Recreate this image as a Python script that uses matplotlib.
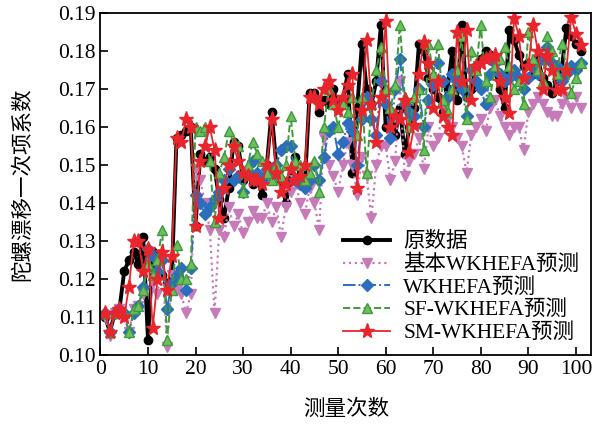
import numpy as np
import matplotlib
matplotlib.use("Agg")
import matplotlib.pyplot as plt

plt.rcParams['font.family'] = ['Liberation Serif', 'Noto Sans CJK SC']
plt.rcParams['font.size'] = 15.5

# measurement index 1..101
x = np.arange(1, 102)

orig = [0.110, 0.106, 0.111, 0.112, 0.122, 0.125, 0.127, 0.124, 0.131, 0.104,
        0.127, 0.122, 0.121, 0.119, 0.120, 0.157, 0.158, 0.159, 0.160, 0.134,
        0.153, 0.151, 0.152, 0.149, 0.141, 0.136, 0.144, 0.156, 0.155, 0.146,
        0.148, 0.145, 0.147, 0.142, 0.150, 0.164, 0.150, 0.146, 0.140, 0.146,
        0.152, 0.147, 0.145, 0.169, 0.169, 0.164, 0.167, 0.166, 0.170, 0.165,
        0.167, 0.174, 0.148, 0.165, 0.182, 0.170, 0.166, 0.172, 0.187, 0.160,
        0.164, 0.158, 0.165, 0.153, 0.160, 0.165, 0.182, 0.180, 0.173, 0.170,
        0.168, 0.164, 0.170, 0.180, 0.167, 0.187, 0.168, 0.170, 0.176, 0.178,
        0.180, 0.179, 0.175, 0.170, 0.165, 0.1855, 0.183, 0.179, 0.176, 0.177,
        0.174, 0.178, 0.173, 0.171, 0.169, 0.172, 0.175, 0.186, 0.184, 0.182,
        0.180]

basic = [0.110, 0.105, 0.111, 0.112, 0.110, 0.106, 0.112, 0.113, 0.116, 0.127,
         0.119, 0.116, 0.125, 0.102, 0.121, 0.117, 0.116, 0.111, 0.116, 0.149,
         0.146, 0.140, 0.133, 0.111, 0.133, 0.131, 0.139, 0.134, 0.137, 0.132,
         0.135, 0.138, 0.136, 0.136, 0.140, 0.135, 0.139, 0.131, 0.139, 0.143,
         0.146, 0.140, 0.137, 0.144, 0.140, 0.133, 0.157, 0.150, 0.147, 0.143,
         0.150, 0.156, 0.150, 0.142, 0.152, 0.147, 0.136, 0.150, 0.155, 0.155,
         0.146, 0.151, 0.172, 0.147, 0.151, 0.153, 0.157, 0.149, 0.160, 0.155,
         0.157, 0.165, 0.162, 0.160, 0.157, 0.155, 0.148, 0.158, 0.160, 0.162,
         0.159, 0.165, 0.167, 0.163, 0.160, 0.158, 0.160, 0.160, 0.154, 0.164,
         0.166, 0.168, 0.166, 0.164, 0.163, 0.163, 0.166, 0.168, 0.165, 0.168,
         0.165]

wk = [0.111, 0.106, 0.111, 0.112, 0.111, 0.106, 0.111, 0.113, 0.118, 0.128,
      0.126, 0.122, 0.125, 0.112, 0.119, 0.121, 0.123, 0.117, 0.123, 0.142,
      0.140, 0.137, 0.139, 0.141, 0.143, 0.146, 0.149, 0.146, 0.147, 0.143,
      0.148, 0.151, 0.148, 0.146, 0.149, 0.147, 0.150, 0.154, 0.155, 0.155,
      0.146, 0.145, 0.144, 0.146, 0.150, 0.146, 0.152, 0.159, 0.160, 0.153,
      0.156, 0.161, 0.159, 0.150, 0.162, 0.168, 0.162, 0.158, 0.172, 0.166,
      0.157, 0.170, 0.178, 0.166, 0.164, 0.163, 0.170, 0.160, 0.167, 0.171,
      0.177, 0.172, 0.168, 0.174, 0.172, 0.170, 0.163, 0.175, 0.172, 0.170,
      0.166, 0.174, 0.177, 0.174, 0.172, 0.173, 0.175, 0.173, 0.170, 0.173,
      0.176, 0.174, 0.178, 0.181, 0.177, 0.176, 0.172, 0.174, 0.176, 0.175,
      0.177]

sf = [0.111, 0.106, 0.111, 0.112, 0.111, 0.106, 0.112, 0.113, 0.117, 0.124,
      0.121, 0.125, 0.133, 0.104, 0.117, 0.129, 0.120, 0.120, 0.124, 0.160,
      0.159, 0.160, 0.151, 0.135, 0.148, 0.152, 0.159, 0.156, 0.155, 0.143,
      0.150, 0.156, 0.153, 0.151, 0.148, 0.146, 0.150, 0.147, 0.150, 0.163,
      0.151, 0.150, 0.146, 0.148, 0.151, 0.143, 0.160, 0.170, 0.166, 0.160,
      0.166, 0.164, 0.168, 0.158, 0.168, 0.148, 0.166, 0.175, 0.181, 0.170,
      0.165, 0.171, 0.187, 0.168, 0.160, 0.168, 0.170, 0.154, 0.182, 0.174,
      0.182, 0.167, 0.164, 0.170, 0.175, 0.184, 0.162, 0.180, 0.175, 0.187,
      0.172, 0.168, 0.176, 0.178, 0.181, 0.176, 0.170, 0.172, 0.166, 0.185,
      0.178, 0.175, 0.172, 0.184, 0.180, 0.174, 0.182, 0.176, 0.169, 0.173,
      0.177]

sm = [0.111, 0.106, 0.111, 0.112, 0.110, 0.118, 0.130, 0.130, 0.122, 0.128,
      0.107, 0.120, 0.127, 0.117, 0.126, 0.157, 0.156, 0.162, 0.160, 0.134,
      0.151, 0.155, 0.160, 0.154, 0.136, 0.144, 0.150, 0.155, 0.151, 0.148,
      0.147, 0.146, 0.146, 0.145, 0.150, 0.162, 0.148, 0.143, 0.145, 0.149,
      0.146, 0.147, 0.150, 0.168, 0.168, 0.166, 0.170, 0.172, 0.167, 0.1645,
      0.168, 0.171, 0.174, 0.144, 0.1645, 0.183, 0.166, 0.156, 0.168, 0.188,
      0.160, 0.163, 0.162, 0.167, 0.1535, 0.1605, 0.174, 0.1825, 0.177, 0.165,
      0.172, 0.163, 0.160, 0.158, 0.185, 0.172, 0.1855, 0.167, 0.176, 0.177,
      0.178, 0.1785, 0.179, 0.172, 0.168, 0.1636, 0.1887, 0.184, 0.173, 0.176,
      0.187, 0.180, 0.170, 0.179, 0.175, 0.1697, 0.170, 0.175, 0.189, 0.1846,
      0.1816]

labels = ["原数据", "基本WKHEFA预测", "WKHEFA预测", "SF-WKHEFA预测", "SM-WKHEFA预测"]

fig = plt.figure(figsize=(6.05, 4.24), dpi=100)
ax = fig.add_axes([0.166, 0.163, 0.811, 0.806])

ax.plot(x, orig, "-o", color="black", lw=2.8, ms=6, label=labels[0])
ax.plot(x, basic, ":v", color="#c77ab8", lw=1.6, ms=7, label=labels[1])
ax.plot(x, wk, "-.D", color="#2a6ebd", lw=1.4, ms=6, label=labels[2])
ax.plot(x, sf, "--^", color="#3f9a3c", mfc="#6cbf5c", mec="#3f9a3c", lw=1.4, ms=6.5, label=labels[3])
ax.plot(x, sm, "-*", color="#e8252c", lw=1.3, ms=11, label=labels[4])

ax.set_xlim(0, 103.2)
ax.set_ylim(0.10, 0.19)
ax.set_xticks(np.arange(0, 101, 10))
ax.set_yticks(np.arange(0.10, 0.1901, 0.01))
ax.set_yticklabels(["%.2f" % v for v in np.arange(0.10, 0.1901, 0.01)])
ax.tick_params(direction="in", length=6, width=1.2, top=False, right=False)
for s in ax.spines.values():
    s.set_linewidth(1.3)

ax.set_xlabel("测量次数", labelpad=15)
ax.set_ylabel("陀螺漂移一次项系数", labelpad=18)

ax.legend(loc="lower right", frameon=False, handlelength=2.2, labelspacing=0.12,
          handletextpad=0.6, borderaxespad=0.15, fontsize=15.5)

fig.savefig("out.png", dpi=100)
